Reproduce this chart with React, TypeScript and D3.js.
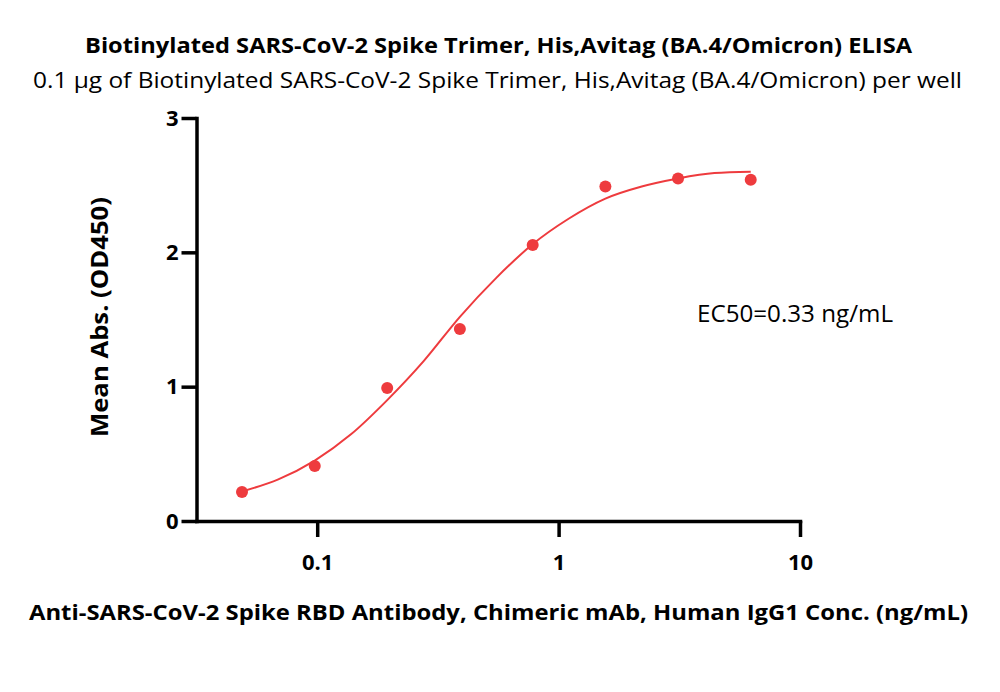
import React, { useEffect, useRef } from 'react';
import * as d3 from 'd3';

// measured points (ng/mL, OD450)
const concentrations = [0.0488, 0.0977, 0.195, 0.39, 0.781, 1.5625, 3.125, 6.25];
const meanAbs = [0.216, 0.41, 0.99, 1.43, 2.055, 2.49, 2.55, 2.54];

// fitted curve
const curveConc = [0.0488, 0.069, 0.0977, 0.138, 0.195, 0.276, 0.39, 0.552, 0.78, 1.1, 1.5625, 2.21, 3.125, 4.42, 6.25];
const curveAbs = [0.22, 0.31, 0.45, 0.645, 0.9, 1.19, 1.52, 1.81, 2.06, 2.25, 2.4, 2.49, 2.55, 2.59, 2.6];

const yTicks = [0, 1, 2, 3];
const xTicks = [0.1, 1, 10];

const title = 'Biotinylated SARS-CoV-2 Spike Trimer, His,Avitag (BA.4/Omicron) ELISA';
const subtitle = '0.1 μg of Biotinylated SARS-CoV-2 Spike Trimer, His,Avitag (BA.4/Omicron) per well';
const xLabel = 'Anti-SARS-CoV-2 Spike RBD Antibody, Chimeric mAb, Human IgG1 Conc. (ng/mL)';
const yLabel = 'Mean Abs. (OD450)';
const ec50Label = 'EC50=0.33 ng/mL';

const RED = '#ee3b3e';
const FONT = '"Open Sans", sans-serif';

const App = () => {
  const svgRef = useRef<SVGSVGElement>(null);

  useEffect(() => {
    document.body.style.margin = '0';
    const svg = d3.select(svgRef.current);
    svg.selectAll('*').remove();

    const x = d3.scaleLog().domain([Math.pow(10, -1.5), 10]).range([196.5, 800]);
    const y = d3.scaleLinear().domain([0, 3]).range([521, 118]);

    // titles
    svg.append('text')
      .attr('x', 498.5).attr('y', 53)
      .attr('text-anchor', 'middle')
      .attr('font-family', FONT).attr('font-weight', 700).attr('font-size', 21)
      .attr('textLength', 827).attr('lengthAdjust', 'spacingAndGlyphs')
      .text(title);

    svg.append('text')
      .attr('x', 497.5).attr('y', 88)
      .attr('text-anchor', 'middle')
      .attr('font-family', FONT).attr('font-size', 22)
      .attr('textLength', 929).attr('lengthAdjust', 'spacingAndGlyphs')
      .text(subtitle);

    // curve
    const pts = curveConc.map((c, i) => [c, curveAbs[i]] as [number, number]);
    const line = d3.line<[number, number]>()
      .x(d => x(d[0]))
      .y(d => y(d[1]))
      .curve(d3.curveMonotoneX);

    svg.append('path')
      .datum(pts)
      .attr('d', line)
      .attr('fill', 'none')
      .attr('stroke', RED)
      .attr('stroke-width', 2);

    svg.append('g')
      .selectAll('circle')
      .data(concentrations.map((c, i) => [c, meanAbs[i]]))
      .join('circle')
      .attr('cx', d => x(d[0]))
      .attr('cy', d => y(d[1]))
      .attr('r', 6)
      .attr('fill', RED);

    // axes
    const yAxis = svg.append('g')
      .attr('transform', 'translate(196.5,0)')
      .call(d3.axisLeft(y).tickValues(yTicks).tickFormat(d3.format('d')).tickSize(15).tickSizeOuter(0).tickPadding(3));

    const xAxis = svg.append('g')
      .attr('transform', 'translate(0,521)')
      .call(d3.axisBottom(x).tickValues(xTicks).tickFormat(d => String(d)).tickSize(16).tickSizeOuter(0).tickPadding(17));

    [yAxis, xAxis].forEach(g => {
      g.select('.domain').attr('stroke', '#000').attr('stroke-width', 3.5).attr('stroke-linecap', 'square');
      g.selectAll('.tick line').attr('stroke', '#000').attr('stroke-width', 3.5);
      g.selectAll('.tick text')
        .attr('fill', '#000')
        .attr('font-family', FONT)
        .attr('font-weight', 700)
        .attr('font-size', 22);
    });

    // axis titles
    svg.append('text')
      .attr('transform', 'translate(108,317) rotate(-90)')
      .attr('text-anchor', 'middle')
      .attr('font-family', FONT).attr('font-weight', 700).attr('font-size', 23)
      .attr('textLength', 240).attr('lengthAdjust', 'spacingAndGlyphs')
      .text(yLabel);

    svg.append('text')
      .attr('x', 498.5).attr('y', 620)
      .attr('text-anchor', 'middle')
      .attr('font-family', FONT).attr('font-weight', 700).attr('font-size', 22)
      .attr('textLength', 939).attr('lengthAdjust', 'spacingAndGlyphs')
      .text(xLabel);

    svg.append('text')
      .attr('x', 697).attr('y', 322)
      .attr('font-family', FONT).attr('font-size', 23)
      .attr('textLength', 196).attr('lengthAdjust', 'spacingAndGlyphs')
      .text(ec50Label);
  }, []);

  return (
    <svg ref={svgRef} width={1000} height={692} style={{ display: 'block', background: '#fff' }}></svg>
  );
};

export default App;
